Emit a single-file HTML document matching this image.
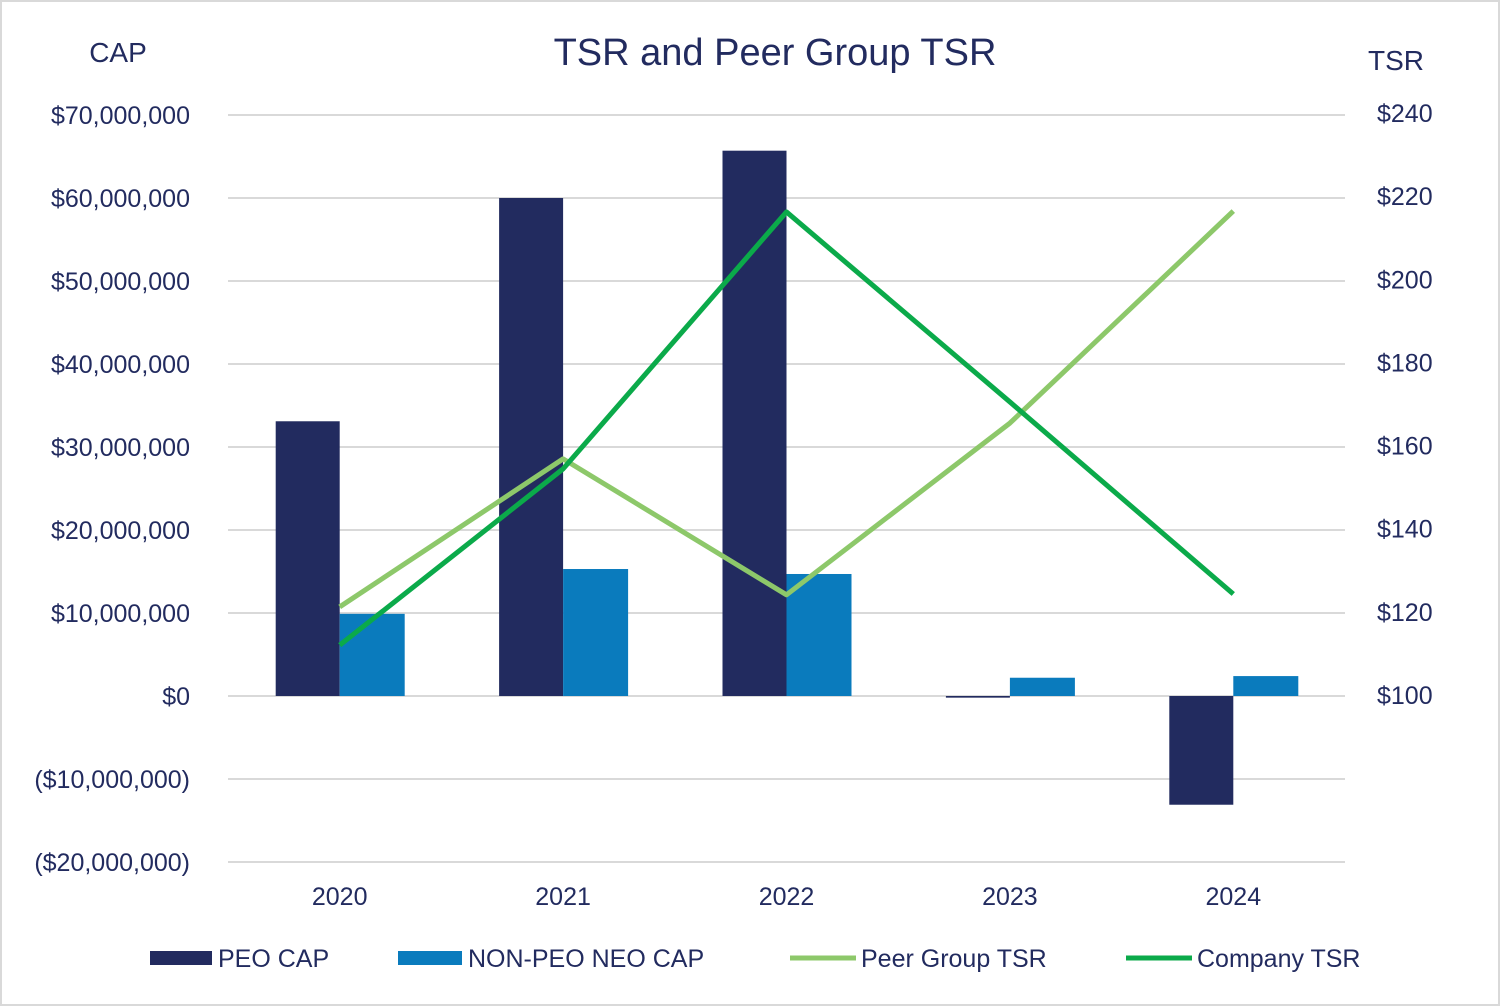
<!DOCTYPE html>
<html><head><meta charset="utf-8">
<style>
html,body{margin:0;padding:0;background:#fff;}
svg{display:block;font-family:"Liberation Sans",sans-serif;}
</style></head>
<body>
<svg id="chart" width="1500" height="1006" viewBox="0 0 1500 1006">
<rect x="1" y="1" width="1498" height="1004" fill="#fff" stroke="#d9d9d9" stroke-width="2"/>
<text x="775" y="65" text-anchor="middle" font-size="38" fill="#222b5f">TSR and Peer Group TSR</text>
<text x="118" y="62" text-anchor="middle" font-size="28" fill="#222b5f">CAP</text>
<text x="1396" y="70" text-anchor="middle" font-size="28" fill="#222b5f">TSR</text>
<g id="grid"></g><g id="bars"></g><g id="lines"></g><g id="labels"></g>
<g id="legend">
<rect x="150" y="951" width="62" height="14" fill="#222b5f"/>
<text x="218" y="967" font-size="25" fill="#222b5f">PEO CAP</text>
<rect x="398" y="951" width="64" height="14" fill="#0a7bbd"/>
<text x="468" y="967" font-size="25" fill="#222b5f">NON-PEO NEO CAP</text>
<line x1="790" y1="958" x2="856" y2="958" stroke="#8dc86a" stroke-width="5"/>
<text x="861" y="967" font-size="25" fill="#222b5f">Peer Group TSR</text>
<line x1="1126" y1="958" x2="1192" y2="958" stroke="#0baa4a" stroke-width="5"/>
<text x="1197" y="967" font-size="25" fill="#222b5f">Company TSR</text>
</g>
</svg>
<script>
const categories = ["2020","2021","2022","2023","2024"];
const peoCap = [33100000, 60000000, 65700000, -200000, -13100000];
const neoCap = [9900000, 15300000, 14700000, 2200000, 2400000];
const peerTsr = [121.2, 156.8, 124.1, 165.4, 216.4];
const companyTsr = [112.0, 154.4, 216.2, 170.5, 124.3];
const leftTicks = [70000000,60000000,50000000,40000000,30000000,20000000,10000000,0,-10000000,-20000000];
const rightTicks = [240,220,200,180,160,140,120,100];

const NS="http://www.w3.org/2000/svg";
const X0=228, X1=1345;
const step=(X1-X0)/categories.length;
const xC=i=>X0+step*(i+0.5);
const yL=v=>696-v*(581/70000000);
const yR=v=>695-(v-100)*(582/140);
function mk(tag,attrs,parent){const e=document.createElementNS(NS,tag);for(const k in attrs)e.setAttribute(k,attrs[k]);document.getElementById(parent).appendChild(e);return e;}
function fmt(v){const s="$"+Math.abs(v).toLocaleString("en-US");return v<0?"("+s+")":s;}

leftTicks.forEach(t=>{
  const l=mk("line",{x1:X0,x2:X1,y1:yL(t),y2:yL(t),stroke:"#d9d9d9","stroke-width":2},"grid");
  
  
  const tx=mk("text",{x:190,y:yL(t)+9,"text-anchor":"end","font-size":25,fill:"#222b5f"},"labels");
  tx.textContent=fmt(t);
  
  
});
rightTicks.forEach(t=>{
  const tx=mk("text",{x:1377,y:yR(t)+9,"font-size":25,fill:"#222b5f"},"labels");
  tx.textContent="$"+t;
  
  
});
categories.forEach((c,i)=>{
  const tx=mk("text",{x:xC(i),y:905,"text-anchor":"middle","font-size":25,fill:"#222b5f"},"labels");
  tx.textContent=c;
  
  
  const bw=64;
  const p=peoCap[i], n=neoCap[i];
  const r1=mk("rect",{x:xC(i)-bw,y:Math.min(yL(p),yL(0)),width:bw,height:Math.max(Math.abs(yL(p)-yL(0)),1.5),fill:"#222b5f"},"bars");
  
  
  const r2=mk("rect",{x:xC(i),y:Math.min(yL(n),yL(0)),width:bw+1,height:Math.max(Math.abs(yL(n)-yL(0)),1.5),fill:"#0a7bbd"},"bars");
  
  
});
const pp=peerTsr.map((v,i)=>xC(i)+","+yR(v)).join(" ");
const l1=mk("polyline",{points:pp,fill:"none",stroke:"#8dc86a","stroke-width":5,"stroke-linejoin":"round"},"lines");


const cp=companyTsr.map((v,i)=>xC(i)+","+yR(v)).join(" ");
const l2=mk("polyline",{points:cp,fill:"none",stroke:"#0baa4a","stroke-width":5,"stroke-linejoin":"round"},"lines");


</script>
</body></html>
